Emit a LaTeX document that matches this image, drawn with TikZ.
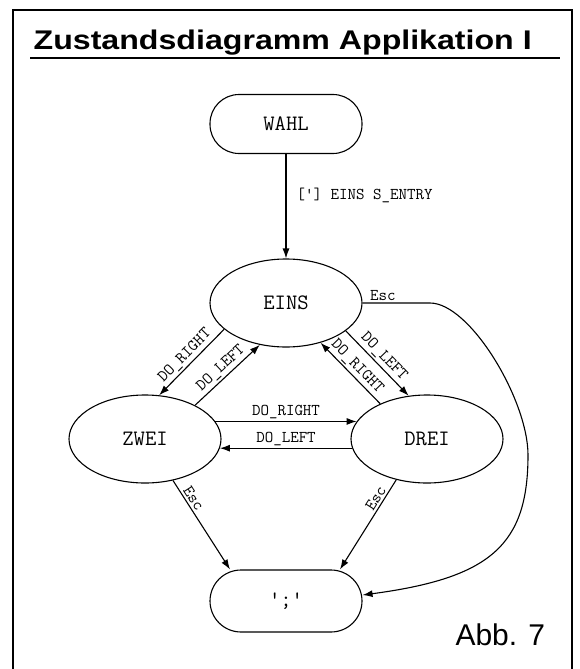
\documentclass[tikz,border=0pt]{standalone}
\usepackage{fontspec}
\setsansfont{Liberation Sans}
\usetikzlibrary{shapes.geometric, arrows.meta}

\tikzset{
  zustand/.style={ellipse, draw, minimum width=152pt, minimum height=88pt, inner sep=0pt, font=\ttfamily\fontsize{22}{26}\selectfont},
  rundzustand/.style={rectangle, draw, rounded corners=29pt, minimum width=152pt, minimum height=59pt, inner sep=0pt, font=\ttfamily\fontsize{22}{26}\selectfont},
  pfeil/.style={-{Latex[length=10pt, width=7pt]}},
  beschr/.style={font=\ttfamily\fontsize{16.5}{19}\selectfont, inner sep=2pt}
}

\begin{document}
\begin{tikzpicture}[x=1pt, y=-1pt, line width=1.1pt]

% fix page size
\useasboundingbox (0,0) rectangle (579,669);
\clip (0,0) rectangle (579,669);

% draw frame
\draw[line width=2.5pt] (13,10) rectangle (572,690);

% draw title
\node[anchor=base west, inner sep=0pt, font=\sffamily\bfseries\fontsize{27}{32}\selectfont, xscale=1.19] (titel) at (33,50) {Zustandsdiagramm Applikation I};
\draw[line width=1.8pt] (30,58) -- (560,58);

% draw states
\node[rundzustand] (wahl) at (286,124) {WAHL};
\node[zustand] (eins) at (286,303) {EINS};
\node[zustand] (zwei) at (145,439) {ZWEI};
\node[zustand] (drei) at (427,439) {DREI};
\node[rundzustand, minimum height=62pt, rounded corners=31pt] (ende) at (286,601) {\textquotesingle;\textquotesingle};

% draw transitions
\draw[pfeil] (wahl) -- node[beschr, right=8pt, pos=0.4] {[\textquotesingle] EINS S\_ENTRY} (eins);

\draw[pfeil] (eins.203) -- node[beschr, sloped, above] {DO\_RIGHT} (zwei.72);
\draw[pfeil] (zwei.34) -- node[beschr, sloped, above] {DO\_LEFT} (eins.238);
\draw[pfeil] (eins.-25) -- node[beschr, sloped, above] {DO\_LEFT} (drei.113);
\draw[pfeil] (drei.143) -- node[beschr, sloped, above] {DO\_RIGHT} (eins.-49);
\draw[pfeil] (zwei.14) -- node[beschr, above] {DO\_RIGHT} (drei.166);
\draw[pfeil] (drei.187) -- node[beschr, above] {DO\_LEFT} (zwei.-7);

% draw escape transitions
\draw[pfeil] (zwei.-56) -- node[beschr, sloped, above, pos=0.25] {Esc} ([xshift=-56pt]ende.north);
\draw[pfeil] (drei.-127) -- node[beschr, sloped, above, pos=0.25] {Esc} ([xshift=54pt]ende.north);

\coordinate (knickA) at (430,303);
\coordinate (knickB) at (528,455);
\draw[pfeil] (eins.east) -- node[beschr, above, pos=0.3] {Esc} (knickA)
  .. controls +(40,0) and +(0,-55) .. (knickB)
  .. controls +(0,90) and +(128,-17) .. ([yshift=6pt]ende.east);

% draw figure number
\node[anchor=base west, inner sep=0pt, font=\sffamily\fontsize{30}{36}\selectfont] (abb) at (455,645) {Abb. 7};

\end{tikzpicture}
\end{document}
